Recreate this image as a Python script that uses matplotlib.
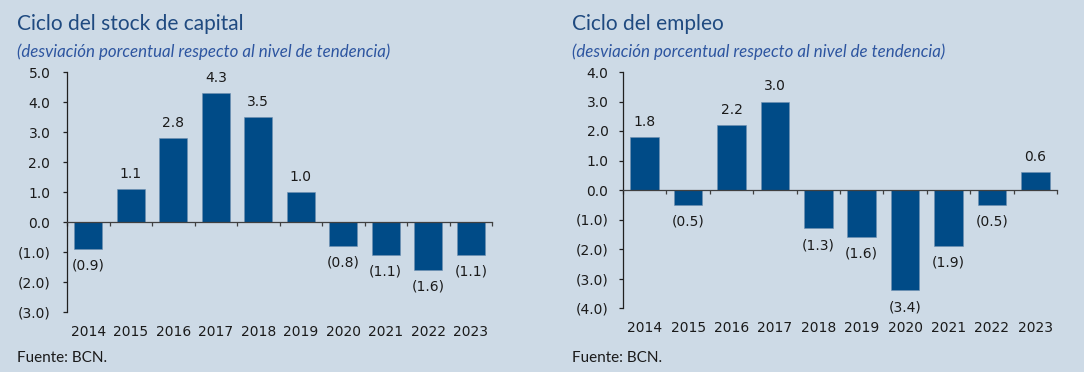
import matplotlib
matplotlib.use('Agg')
import matplotlib.pyplot as plt

# --- data ---
years = ['2014', '2015', '2016', '2017', '2018', '2019', '2020', '2021', '2022', '2023']
capital_stock = [-0.9, 1.1, 2.8, 4.3, 3.5, 1.0, -0.8, -1.1, -1.6, -1.1]
employment = [1.8, -0.5, 2.2, 3.0, -1.3, -1.6, -3.4, -1.9, -0.5, 0.6]

BG = '#cddae6'
BAR = '#004b87'
TITLE_C = '#1f4a80'
SUB_C = '#2d55a0'
TXT = '#1a1a1a'
HEAD_FONT = ['Lato', 'DejaVu Sans']


def fmt(v):
    return f"({abs(v):.1f})" if v < 0 else f"{v:.1f}"


def draw_panel(ax, values, ylim, yticks, ypad):
    x = list(range(len(years)))
    ax.set_facecolor(BG)
    ax.bar(x, values, width=0.66, color=BAR, edgecolor='#6f8fb0', linewidth=0.4, zorder=2)
    ax.set_xlim(-0.5, len(years) - 0.5)
    ax.set_ylim(*ylim)

    for s in ['top', 'right']:
        ax.spines[s].set_visible(False)
    ax.spines['bottom'].set_position(('data', 0))
    ax.spines['bottom'].set_color('#404040')
    ax.spines['bottom'].set_linewidth(0.9)
    ax.spines['left'].set_color('#202020')
    ax.spines['left'].set_linewidth(0.9)

    ax.set_xticks([i + 0.5 for i in range(-1, len(years))])
    ax.set_xticklabels([])
    ax.tick_params(axis='x', direction='out', length=3, color='#404040', width=0.9)

    ax.set_yticks(yticks)
    ax.set_yticklabels([fmt(t) for t in yticks], fontsize=10, color=TXT)
    ax.tick_params(axis='y', direction='out', length=3, color='#202020', width=0.9, pad=ypad)

    for i, yr in enumerate(years):
        ax.annotate(yr, (i, 0), xycoords=('data', 'axes fraction'), xytext=(0, -9),
                    textcoords='offset points', ha='center', va='top', fontsize=10, color=TXT)

    for i, v in enumerate(values):
        if v >= 0:
            ax.annotate(fmt(v), (i, v), xytext=(0, 6), textcoords='offset points',
                        ha='center', va='bottom', fontsize=10, color=TXT)
        else:
            ax.annotate(fmt(v), (i, v), xytext=(0, -7), textcoords='offset points',
                        ha='center', va='top', fontsize=10, color=TXT)


fig = plt.figure(figsize=(10.84, 3.72), dpi=100)
fig.patch.set_facecolor(BG)

ax1 = fig.add_axes([67 / 1084, 1 - 312 / 372, 425 / 1084, 240 / 372])
draw_panel(ax1, capital_stock, (-3.0, 5.0), [5, 4, 3, 2, 1, 0, -1, -2, -3], 9)

ax2 = fig.add_axes([623 / 1084, 1 - 308 / 372, 434 / 1084, 236 / 372])
draw_panel(ax2, employment, (-4.0, 4.0), [4, 3, 2, 1, 0, -1, -2, -3, -4], 7.5)

# titles, subtitles, source
for x0, title in [(17, 'Ciclo del stock de capital'), (572, 'Ciclo del empleo')]:
    fig.text(x0 / 1084, 1 - 24 / 372, title, fontsize=15, color=TITLE_C,
             family=HEAD_FONT, ha='left', va='center')
    fig.text(x0 / 1084, 1 - 52 / 372, '(desviación porcentual respecto al nivel de tendencia)',
             fontsize=12.2, color=SUB_C, family=HEAD_FONT, style='italic',
             ha='left', va='center')
    fig.text(x0 / 1084, 1 - 358 / 372, 'Fuente: BCN.', fontsize=11, color=TXT,
             family=HEAD_FONT, ha='left', va='center')

fig.savefig('out.png', dpi=100, facecolor=BG)
